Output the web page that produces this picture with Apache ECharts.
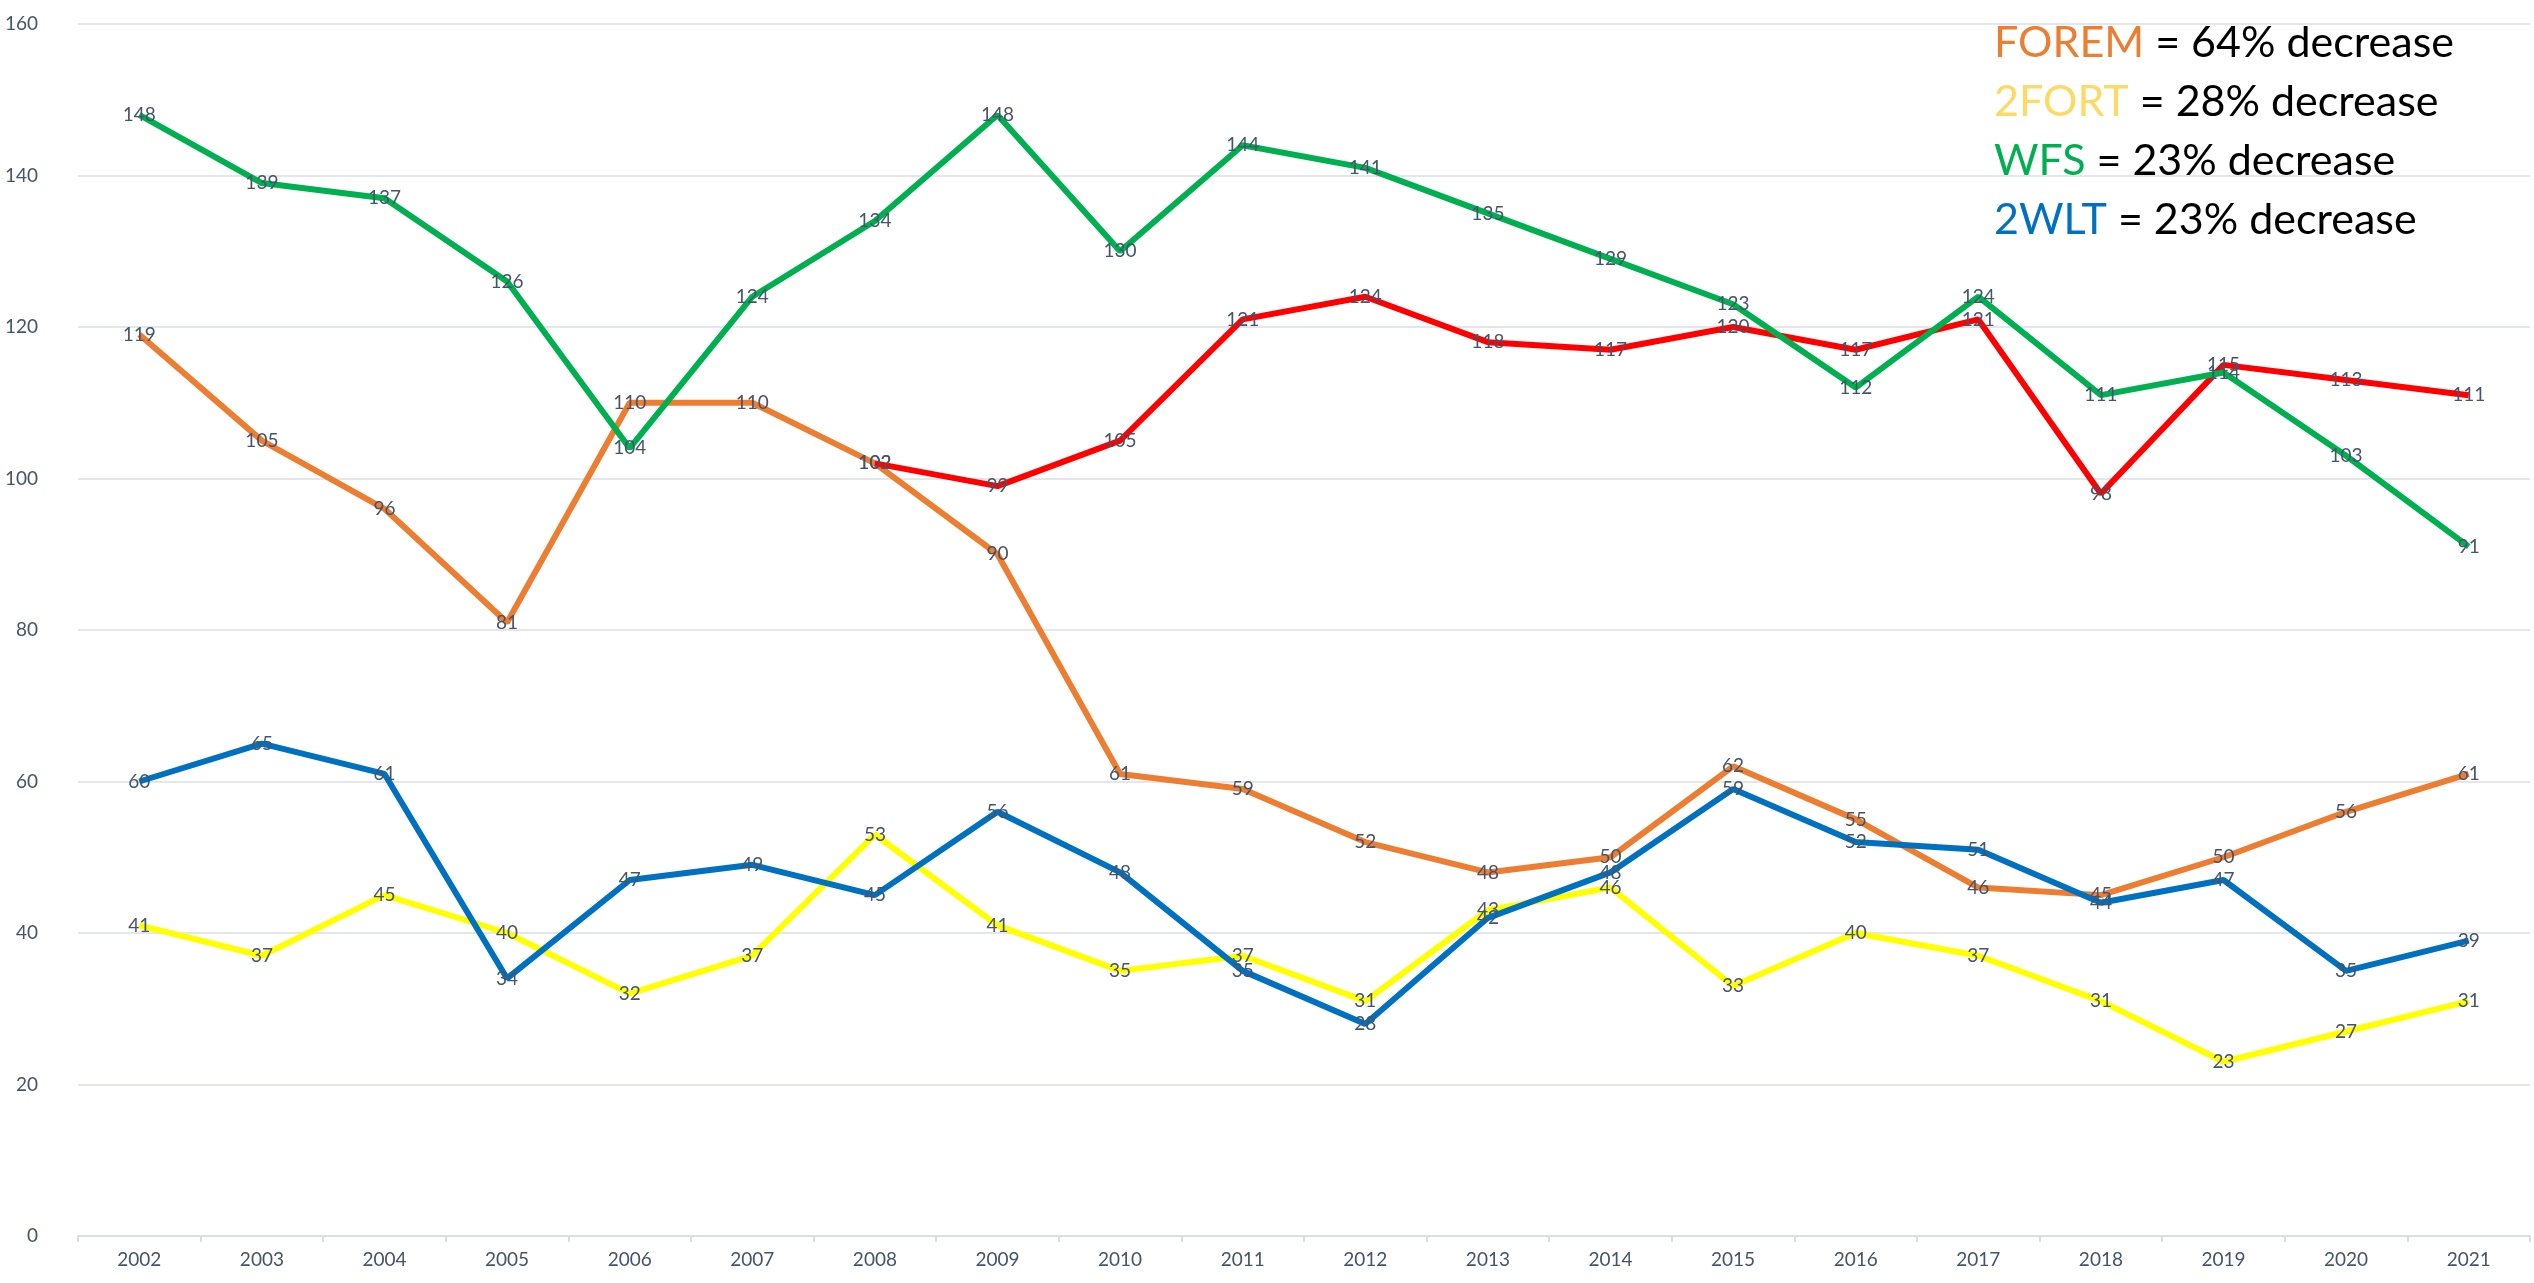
<!DOCTYPE html>
<html>
<head>
<meta charset="utf-8">
<title>Chart</title>
<script src="https://cdn.jsdelivr.net/npm/echarts@6/dist/echarts.min.js"></script>
<style>
  html, body { margin: 0; padding: 0; background: #fff; }
  #chart { width: 2534px; height: 1283px; }
</style>
</head>
<body>
<div id="chart"></div>
<script>
var years = ['2002','2003','2004','2005','2006','2007','2008','2009','2010','2011',
             '2012','2013','2014','2015','2016','2017','2018','2019','2020','2021'];
var wfs   = [148,139,137,126,104,124,134,148,130,144,141,135,129,123,112,124,111,114,103,91];
var forem = [119,105,96,81,110,110,102,90,61,59,52,48,50,62,55,46,45,50,56,61];
var red   = [null,null,null,null,null,null,102,99,105,121,124,118,117,120,117,121,98,115,113,111];
var fort  = [41,37,45,40,32,37,53,41,35,37,31,43,46,33,40,37,31,23,27,31];
var wlt   = [60,65,61,34,47,49,45,56,48,35,28,42,48,59,52,51,44,47,35,39];
var yTicks = { min: 0, max: 160, interval: 20 };

var notes = [
  { name: 'FOREM', color: '#ED7D31', text: ' = 64% decrease' },
  { name: '2FORT', color: '#FFD966', text: ' = 28% decrease' },
  { name: 'WFS',   color: '#00B050', text: ' = 23% decrease' },
  { name: '2WLT',  color: '#0070C0', text: ' = 23% decrease' }
];

var labelColor = '#44546A';
var font = 'Lato, "Open Sans", sans-serif';

function makeLine(name, data, color, z) {
  return {
    name: name,
    type: 'line',
    data: data,
    z: z,
    symbol: 'circle',
    symbolSize: 2,
    showAllSymbol: true,
    itemStyle: { color: 'transparent' },
    lineStyle: { color: color, width: 6 },
    emphasis: { disabled: true },
    label: {
      show: true,
      position: 'inside',
      color: labelColor,
      fontSize: 19,
      fontFamily: font
    }
  };
}

var myChart = echarts.init(document.getElementById('chart'));

var graphics = notes.map(function (n, i) {
  return {
    type: 'text',
    left: 1994,
    top: 22 + i * 59,
    z: 100,
    style: {
      text: '{a|' + n.name + '}{b|' + n.text + '}',
      rich: {
        a: { fill: n.color, fontSize: 43, fontFamily: font },
        b: { fill: '#000', fontSize: 43, fontFamily: font }
      }
    }
  };
});

var option = {
  animation: false,
  backgroundColor: '#fff',
  grid: { left: 78, right: 4, top: 24, bottom: 47 },
  xAxis: {
    type: 'category',
    data: years,
    boundaryGap: true,
    axisLine: { lineStyle: { color: '#D9DEE6', width: 2 } },
    axisTick: { show: true, length: 6, lineStyle: { color: '#D9DEE6', width: 2 } },
    axisLabel: { color: labelColor, fontSize: 19, fontFamily: font, margin: 14 },
    splitLine: { show: false }
  },
  yAxis: {
    type: 'value',
    min: yTicks.min,
    max: yTicks.max,
    interval: yTicks.interval,
    axisLine: { show: false },
    axisTick: { show: false },
    axisLabel: { color: labelColor, fontSize: 19, fontFamily: font, margin: 40 },
    splitLine: { lineStyle: { color: '#E3E6EC', width: 2 } }
  },
  graphic: graphics,
  series: [
    makeLine('2FORT', fort, '#FFFF00', 2),
    makeLine('FOREM', forem, '#ED7D31', 3),
    makeLine('Red', red, '#FF0000', 4),
    makeLine('2WLT', wlt, '#0070C0', 5),
    makeLine('WFS', wfs, '#00B050', 6)
  ]
};

myChart.setOption(option);
</script>
</body>
</html>
